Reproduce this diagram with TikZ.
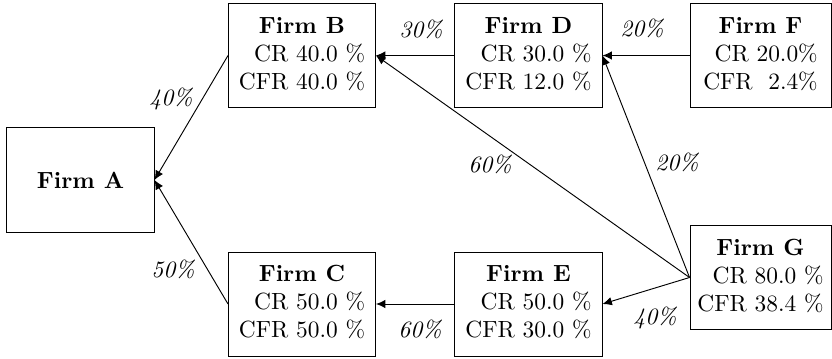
\documentclass[tikz,border=0pt]{standalone}
\usetikzlibrary{arrows.meta}
\tikzset{
  firm/.style={draw, inner sep=0pt, minimum width=62.8pt, minimum height=44.4pt, align=center},
  narrowfirm/.style={firm, minimum width=60.2pt},
  arr/.style={-{Latex[length=4pt,width=3.6pt]}},
  share/.style={font=\itshape}
}
\newcommand{\firmtext}[3]{\begin{tabular}{@{}r@{}}\multicolumn{1}{@{}c@{}}{\textbf{Firm #1}}\\ CR #2\\ CFR #3\end{tabular}}
\begin{document}
\begin{tikzpicture}[x=0.427pt, y=-0.427pt]
  \useasboundingbox (0,0) rectangle (832,359);
  % firms
  \node[firm, minimum height=44.6pt] (A) at (80.5,180) {\textbf{Firm A}};
  \node[firm] (B) at (302,55.5) {\firmtext{B}{40.0 \%}{40.0 \%}};
  \node[firm] (C) at (302,304) {\firmtext{C}{50.0 \%}{50.0 \%}};
  \node[firm] (D) at (528.5,55.5) {\firmtext{D}{30.0 \%}{12.0 \%}};
  \node[firm] (E) at (528.5,304) {\firmtext{E}{50.0 \%}{30.0 \%}};
  \node[narrowfirm] (F) at (760.5,55.5) {\firmtext{F}{20.0\%}{\ 2.4\%}};
  \node[narrowfirm] (G) at (760.5,277.5) {\firmtext{G}{80.0 \%}{38.4 \%}};
  % ownership links
  \draw[arr] (B.west) -- (A.east);
  \draw[arr] (C.west) -- (A.east);
  \draw[arr] (D.west) -- (B.east);
  \draw[arr] (F.west) -- (D.east);
  \draw[arr] (G.west) -- (B.east);
  \draw[arr] (G.west) -- (D.east);
  \draw[arr] (G.west) -- (E.east);
  \draw[arr] (E.west) -- (C.east);
  % shares
  \node[share] (l1) at (171,99) {40\%};
  \node[share] (l2) at (173,269) {50\%};
  \node[share] (l3) at (421,29) {30\%};
  \node[share] (l4) at (642,28) {20\%};
  \node[share] (l5) at (490,164) {60\%};
  \node[share] (l6) at (677,162) {20\%};
  \node[share] (l7) at (655,318) {40\%};
  \node[share] (l8) at (420,329) {60\%};
\end{tikzpicture}
\end{document}
